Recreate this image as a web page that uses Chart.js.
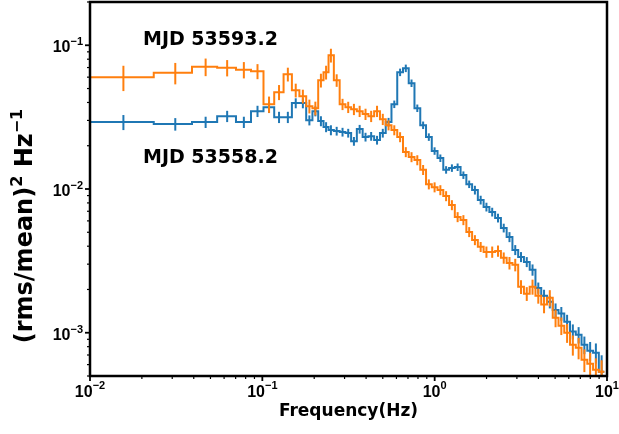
<!DOCTYPE html>
<html>
<head>
<meta charset="utf-8">
<script src="https://cdn.jsdelivr.net/npm/chart.js@4.4.1/dist/chart.umd.min.js"></script>
<style>
  html, body { margin: 0; padding: 0; background: #fff; }
  canvas { display: block; }
</style>
</head>
<body>
<canvas id="psd" width="619" height="434"></canvas>
<script>
'use strict';

// --- DATA ---
const freqHz = [
    0.015625, 0.03125, 0.046875, 0.0625, 0.078125, 0.09375, 0.109375, 0.125,
    0.140625, 0.15625, 0.171875, 0.1875, 0.203125, 0.21875, 0.234375, 0.25,
    0.270, 0.292, 0.315, 0.340, 0.367, 0.397, 0.428, 0.463, 0.500, 0.540,
    0.583, 0.630, 0.680, 0.734, 0.793, 0.857, 0.925, 0.999, 1.079, 1.165,
    1.259, 1.359, 1.468, 1.586, 1.712, 1.849, 1.997, 2.157, 2.330, 2.516,
    2.717, 2.935, 3.169, 3.423, 3.697, 3.993, 4.312, 4.657, 5.030, 5.432,
    5.867, 6.336, 6.843, 7.391, 7.982, 8.620, 9.310
];

// MJD 53593.2 (orange)
const powerLate = [
    0.0600, 0.0644, 0.0709, 0.0698, 0.0676, 0.0660, 0.0389, 0.0472,
    0.0629, 0.0487, 0.0442, 0.0377, 0.0365, 0.0571, 0.0649, 0.0852,
    0.0571, 0.0389, 0.0371, 0.0359, 0.0348, 0.0332, 0.0321, 0.0348, 0.0306, 0.0278,
    0.0257, 0.0230, 0.0181, 0.0167, 0.0159, 0.0136, 0.0108, 0.0103, 0.00984, 0.00894,
    0.00774, 0.00639, 0.00609, 0.00503, 0.00442, 0.00396, 0.00365, 0.00365, 0.00371, 0.00332,
    0.00306, 0.00297, 0.00209, 0.00187, 0.00209, 0.00181, 0.00157, 0.00175, 0.00127, 0.00112,
    0.00100, 0.000825, 0.000787, 0.000649, 0.000609, 0.000553, 0.000536
];
const relErrLate = [
    0.20, 0.17, 0.14, 0.13, 0.13, 0.12, 0.13, 0.12,
    0.11, 0.11, 0.11, 0.11, 0.11, 0.11, 0.11, 0.11,
    0.10, 0.09, 0.09, 0.09, 0.09, 0.09, 0.09, 0.09, 0.09, 0.08,
    0.08, 0.08, 0.08, 0.08, 0.08, 0.08, 0.08, 0.08, 0.08, 0.08,
    0.08, 0.08, 0.08, 0.08, 0.08, 0.08, 0.09, 0.09, 0.09, 0.09,
    0.10, 0.10, 0.11, 0.11, 0.12, 0.12, 0.13, 0.13, 0.14, 0.14,
    0.15, 0.16, 0.17, 0.18, 0.19, 0.20, 0.20
];

// MJD 53558.2 (blue)
const powerEarly = [
    0.0292, 0.0283, 0.0292, 0.0321, 0.0292, 0.0348, 0.0371, 0.0316,
    0.0316, 0.0396, 0.0396, 0.0301, 0.0348, 0.0297, 0.0270, 0.0257,
    0.0253, 0.0249, 0.0245, 0.0215, 0.0261, 0.0230, 0.0233, 0.0219, 0.0245, 0.0292,
    0.0389, 0.0649, 0.0692, 0.0545, 0.0365, 0.0278, 0.0230, 0.0184, 0.0164, 0.0136,
    0.0140, 0.0142, 0.0125, 0.0108, 0.00984, 0.00839, 0.00750, 0.00692, 0.00629, 0.00536,
    0.00464, 0.00377, 0.00337, 0.00311, 0.00274, 0.00205, 0.00181, 0.00164, 0.00144, 0.00136,
    0.00119, 0.00102, 0.000968, 0.000825, 0.000750, 0.000726, 0.000536
];
const relErrEarly = [
    0.12, 0.10, 0.09, 0.09, 0.09, 0.09, 0.09, 0.09,
    0.09, 0.08, 0.08, 0.08, 0.08, 0.08, 0.08, 0.08,
    0.07, 0.07, 0.07, 0.07, 0.07, 0.07, 0.07, 0.07, 0.07, 0.07,
    0.06, 0.06, 0.06, 0.06, 0.06, 0.06, 0.06, 0.06, 0.06, 0.06,
    0.06, 0.06, 0.06, 0.06, 0.07, 0.07, 0.07, 0.07, 0.07, 0.07,
    0.08, 0.08, 0.08, 0.08, 0.09, 0.09, 0.10, 0.10, 0.11, 0.11,
    0.12, 0.12, 0.13, 0.14, 0.15, 0.16, 0.30
];

const seriesLabels = ['MJD 53593.2', 'MJD 53558.2'];
const xTickExps = [-2, -1, 0, 1];
const yTickExps = [-3, -2, -1];
const xTitle = 'Frequency(Hz)';

const ORANGE = '#ff7f0e';
const BLUE = '#1f77b4';
const TICK_FONT = 'bold 16px "Liberation Sans", Arial, sans-serif';
const SUP_FONT = 'bold 11px "Liberation Sans", Arial, sans-serif';

// steps-mid: each bin spans half way to its neighbours
function stepLine(f, v) {
    const pts = [];
    const n = f.length;
    for (let i = 0; i < n; i++) {
        const left = i === 0 ? f[0] - (f[1] - f[0]) / 2 : (f[i - 1] + f[i]) / 2;
        const right = i === n - 1 ? f[n - 1] + (f[n - 1] - f[n - 2]) / 2 : (f[i] + f[i + 1]) / 2;
        pts.push({ x: left, y: v[i] }, { x: right, y: v[i] });
    }
    return pts;
}

function partsWidth(ctx, parts) {
    let w = 0;
    parts.forEach(p => { ctx.font = p.font; w += ctx.measureText(p.text).width; });
    return w;
}

function drawParts(ctx, parts, x, y) {
    let cx = x;
    parts.forEach(p => {
        ctx.font = p.font;
        ctx.fillText(p.text, cx, y - (p.rise || 0));
        cx += ctx.measureText(p.text).width;
    });
}

function powerLabel(exp, rise) {
    return [
        { text: '10', font: TICK_FONT },
        { text: String(exp).replace('-', '\u2212'), font: SUP_FONT, rise: rise }
    ];
}

const errorBars = {
    id: 'errorBars',
    afterDatasetDraw(chart, args) {
        const ds = chart.data.datasets[args.index];
        const { ctx, chartArea: a, scales: { x, y } } = chart;
        ctx.save();
        ctx.beginPath();
        ctx.rect(a.left, a.top, a.right - a.left, a.bottom - a.top);
        ctx.clip();
        ctx.strokeStyle = ds.borderColor;
        ctx.lineWidth = 2;
        ds.centers.forEach((f, i) => {
            const v = ds.values[i];
            const e = v * ds.relErr[i];
            const px = x.getPixelForValue(f);
            const lo = Math.max(v - e, y.min * 0.5);
            ctx.beginPath();
            ctx.moveTo(px, y.getPixelForValue(lo));
            ctx.lineTo(px, y.getPixelForValue(v + e));
            ctx.stroke();
        });
        ctx.restore();
    }
};

const axesDecor = {
    id: 'axesDecor',
    afterDraw(chart) {
        const { ctx, chartArea: a, scales: { x, y } } = chart;
        ctx.save();
        ctx.fillStyle = '#000';
        ctx.strokeStyle = '#000';

        // minor + major ticks
        const tickMarks = (scale, horizontal) => {
            const lo = Math.floor(Math.log10(scale.min));
            const hi = Math.ceil(Math.log10(scale.max));
            for (let e = lo; e <= hi; e++) {
                for (let m = 1; m <= 9; m++) {
                    const v = m * Math.pow(10, e);
                    if (v < scale.min * 0.999 || v > scale.max * 1.001) continue;
                    const p = scale.getPixelForValue(v);
                    const len = m === 1 ? 5 : 3;
                    ctx.lineWidth = m === 1 ? 1.8 : 1.2;
                    ctx.beginPath();
                    if (horizontal) {
                        ctx.moveTo(p, a.bottom);
                        ctx.lineTo(p, a.bottom + len);
                    } else {
                        ctx.moveTo(a.left, p);
                        ctx.lineTo(a.left - len, p);
                    }
                    ctx.stroke();
                }
            }
        };
        tickMarks(x, true);
        tickMarks(y, false);

        // frame
        ctx.lineWidth = 2.5;
        ctx.strokeRect(a.left, a.top, a.right - a.left, a.bottom - a.top);

        // tick labels
        ctx.textBaseline = 'alphabetic';
        ctx.textAlign = 'left';
        xTickExps.forEach(e => {
            const parts = powerLabel(e, 8);
            const w = partsWidth(ctx, parts);
            drawParts(ctx, parts, x.getPixelForValue(Math.pow(10, e)) - w / 2, a.bottom + 21);
        });
        yTickExps.forEach(e => {
            const parts = powerLabel(e, 7);
            const w = partsWidth(ctx, parts);
            const py = y.getPixelForValue(Math.pow(10, e));
            drawParts(ctx, parts, a.left - 7 - w, py + 7);
        });

        // x title
        ctx.font = 'bold 17px "DejaVu Sans", sans-serif';
        ctx.textAlign = 'center';
        ctx.fillText(xTitle, (a.left + a.right) / 2, 416);

        // y title, rotated
        ctx.textAlign = 'left';
        const yParts = [
            { text: '(rms/mean)', font: 'bold 24px "DejaVu Sans", sans-serif' },
            { text: '2', font: 'bold 16px "DejaVu Sans", sans-serif', rise: 10 },
            { text: ' Hz', font: 'bold 24px "DejaVu Sans", sans-serif' },
            { text: '\u22121', font: 'bold 16px "DejaVu Sans", sans-serif', rise: 10 }
        ];
        const yw = partsWidth(ctx, yParts);
        ctx.save();
        ctx.translate(32, 226);
        ctx.rotate(-Math.PI / 2);
        drawParts(ctx, yParts, -yw / 2, 0);
        ctx.restore();

        // series annotations
        ctx.font = 'bold 19px "DejaVu Sans", sans-serif';
        ctx.fillText(seriesLabels[0], 143, 45);
        ctx.fillText(seriesLabels[1], 143, 163);
        ctx.restore();
    }
};

const ctx = document.getElementById('psd').getContext('2d');

new Chart(ctx, {
    type: 'line',
    data: {
        datasets: [
            {
                label: seriesLabels[0],
                data: stepLine(freqHz, powerLate),
                borderColor: ORANGE,
                borderWidth: 2,
                pointRadius: 0,
                tension: 0,
                fill: false,
                order: 0,
                centers: freqHz,
                values: powerLate,
                relErr: relErrLate
            },
            {
                label: seriesLabels[1],
                data: stepLine(freqHz, powerEarly),
                borderColor: BLUE,
                borderWidth: 2,
                pointRadius: 0,
                tension: 0,
                fill: false,
                order: 1,
                centers: freqHz,
                values: powerEarly,
                relErr: relErrEarly
            }
        ]
    },
    options: {
        responsive: false,
        animation: false,
        layout: { padding: { left: 90, right: 12, top: 2, bottom: 58 } },
        plugins: {
            legend: { display: false },
            tooltip: { enabled: false }
        },
        scales: {
            x: { type: 'logarithmic', min: 0.01, max: 10, display: false },
            y: { type: 'logarithmic', min: 5e-4, max: 0.2, display: false }
        }
    },
    plugins: [errorBars, axesDecor]
});
</script>
</body>
</html>
